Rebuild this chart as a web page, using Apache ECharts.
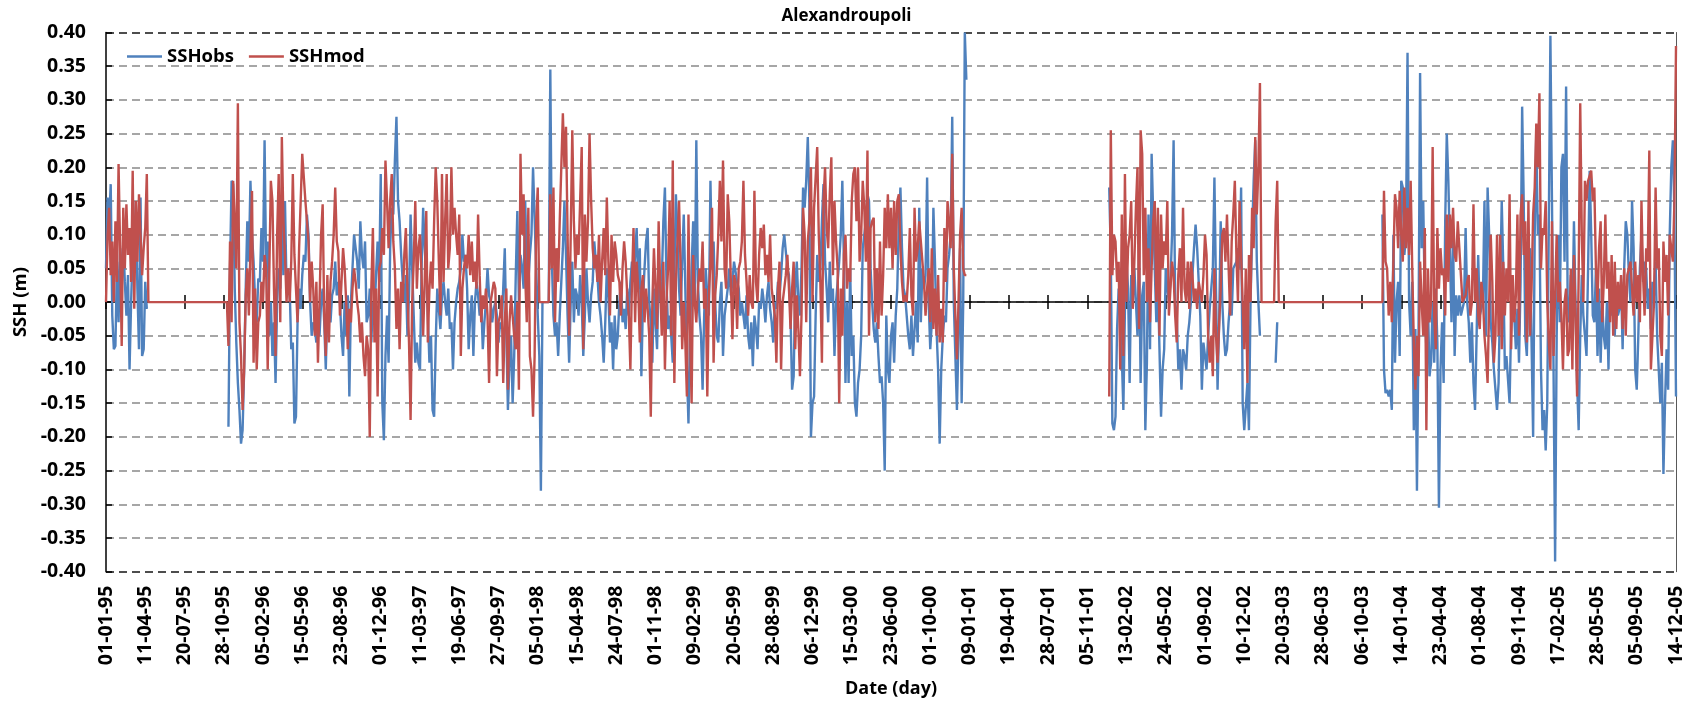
<!DOCTYPE html>
<html>
<head>
<meta charset="utf-8">
<title>Alexandroupoli</title>
<script src="https://cdn.jsdelivr.net/npm/echarts@6/dist/echarts.min.js"></script>
<style>
  html, body { margin: 0; padding: 0; background: #ffffff; }
  #chart { width: 1693px; height: 709px; }
</style>
</head>
<body>
<div id="chart"></div>
<script>
// Sea surface height at Alexandroupoli, observed vs modelled (m).
// Values are taken every 4 days from 1995-01-01 to 2005-12-14.
const seriesNames = ['SSHobs', 'SSHmod'];
const firstDay = '1995-01-01';
const stepDays = 4;
const slotCount = 1001;

// 1995-01-01 onwards
const obs1995 = [0.05,0.155,0.12,0.175,-0.02,-0.07,-0.065,0.06,-0.03,0.08,0.02,0.09,0.03,-0.02,0.04,-0.10,0.0,0.08,0.05,0.15,0.02,-0.07,0.155,-0.08,-0.07,0.03,-0.01];
const mod1995 = [0.0,0.10,0.14,0.04,0.09,0.0,0.12,0.03,0.205,0.08,-0.065,0.14,0.05,0.145,0.07,0.11,0.03,0.195,-0.01,0.15,0.06,0.16,0.10,0.04,0.08,0.11,0.19];

// 1995-11-09 onwards
const obsMain = [
  -0.185,0.05,0.18,0.175,0.02,-0.06,-0.12,-0.16,-0.21,-0.19,
  -0.10,0.02,0.12,0.06,0.18,0.1,0.06,0.0,-0.03,0.035,
  0.03,0.11,0.06,0.24,0.05,0.09,-0.05,0.0,-0.08,-0.03,
  -0.12,0.0,0.05,0.02,0.12,0.04,0.15,0.02,0.05,0.02,
  -0.07,-0.06,-0.18,-0.17,-0.03,0.02,-0.01,0.04,0.07,0.06,
  0.13,0.1,0.0,-0.05,-0.03,-0.04,-0.06,-0.02,-0.05,0.0,
  0.02,-0.03,-0.10,0.0,-0.02,-0.03,0.01,0.02,0.06,0.01,
  0.03,0.0,-0.05,-0.08,0.0,-0.05,0.01,-0.14,0.0,0.05,
  0.10,0.1,0.06,0.02,0.12,0.07,0.05,0.09,-0.03,-0.02,
  0.02,-0.06,0.0,-0.02,0.04,0.09,0.03,0.19,-0.15,-0.205,
  -0.08,-0.02,-0.09,0.08,0.14,0.13,0.21,0.275,0.15,0.12,
  0.07,0.03,0.0,0.04,-0.05,0.01,0.13,0.05,-0.02,-0.09,
  -0.06,-0.09,-0.10,0.05,0.14,0.08,0.04,-0.02,-0.09,-0.05,
  -0.16,-0.17,-0.06,0.02,-0.01,-0.04,0.01,0.03,0.0,-0.02,
  0.02,-0.04,-0.03,-0.10,-0.03,0.0,0.02,0.03,0.05,0.10,
  0.06,0.07,0.02,-0.07,-0.02,0.01,-0.08,0.0,0.03,0.01,
  -0.02,0.0,-0.07,-0.03,0.0,0.05,0.01,0.0,-0.03,-0.01,
  0.0,-0.02,-0.06,-0.03,-0.04,0.02,0.08,-0.05,-0.16,-0.09,
  -0.05,-0.15,-0.08,0.04,0.135,0.0,0.07,0.05,0.02,0.15,
  0.06,0.03,0.07,0.1,0.2,0.2,0.05,-0.02,-0.08,-0.28,
  0.0,0.0,0.0,0.0,0.0,0.345,0.06,-0.02,-0.05,-0.03,
  -0.08,-0.02,0.03,0.08,0.15,0.07,-0.02,-0.09,0.0,0.06,
  -0.03,0.02,0.01,-0.02,0.04,0.0,-0.08,-0.02,0.05,0.0,
  -0.03,0.01,0.03,0.09,0.06,0.04,0.0,-0.02,-0.05,-0.09,
  -0.03,0.05,0.01,-0.06,-0.03,-0.10,-0.02,-0.07,-0.05,0.0,
  0.03,-0.03,-0.01,-0.04,0.02,-0.02,0.03,0.06,0.03,0.07,
  0.11,0.02,0.08,-0.11,0.0,0.05,0.09,0.11,0.0,-0.03,
  -0.09,0.02,-0.03,-0.07,0.05,0.0,0.03,0.12,0.17,0.03,
  -0.04,-0.02,-0.05,-0.09,0.04,0.16,0.1,0.02,-0.02,0.06,
  0.13,0.02,-0.1,-0.18,-0.05,0.05,0.12,0.0,0.24,0.03,
  -0.02,-0.05,-0.13,-0.02,0.05,0.01,-0.02,0.18,0.05,0.09,
  0.0,-0.05,-0.06,0.0,0.03,-0.08,-0.02,0.0,0.02,0.05,
  0.01,0.03,0.06,0.06,0.03,0.02,-0.02,0.0,-0.02,-0.04,
  0.01,-0.05,-0.07,-0.03,-0.095,-0.02,-0.04,-0.07,0.0,-0.01,
  0.02,0.0,-0.03,0.01,0.03,-0.01,-0.03,-0.06,0.0,-0.01,
  0.03,0.01,0.04,0.08,0.1,0.1,0.05,0.04,-0.02,-0.13,
  -0.11,0.02,0.06,0.0,-0.02,0.05,0.17,0.14,0.18,0.245,
  0.15,-0.2,-0.15,-0.14,-0.02,0.07,0.03,0.05,0.12,0.175,
  0.06,0.02,-0.03,0.06,0.0,0.02,-0.08,0.0,0.03,0.06,
  0.1,0.18,0.06,-0.12,0.0,-0.12,0.05,-0.08,-0.05,-0.15,
  -0.17,-0.12,-0.1,-0.05,0.08,0.1,0.12,0.16,0.15,0.05,
  0.0,-0.04,-0.06,-0.03,-0.08,-0.12,-0.11,-0.15,-0.25,-0.02,
  -0.10,-0.12,-0.05,-0.03,-0.09,-0.02,0.02,0.12,0.17,0.08,
  0.02,0.01,-0.02,-0.05,-0.07,-0.02,-0.08,-0.04,0.0,-0.06,
  0.14,-0.03,0.05,0.02,0.04,0.185,0.0,-0.07,-0.03,0.14,
  0.06,-0.04,-0.1,-0.21,-0.1,-0.05,-0.02,-0.03,0.05,0.07,
  0.1,0.275,0.0,-0.08,-0.16,-0.05,0.08,-0.15,0.0,0.40,
  0.33
];
const modMain = [
  -0.065,0.09,-0.03,0.18,0.12,0.05,0.295,-0.03,-0.08,-0.16,
  -0.10,0.01,0.05,-0.02,0.08,0.165,-0.09,0.02,-0.10,-0.03,
  -0.02,0.03,0.0,0.07,0.05,-0.10,0.04,0.18,0.15,0.02,
  -0.08,0.1,0.19,-0.03,0.245,0.12,0.07,0.0,0.05,0.0,
  0.06,0.19,0.07,0.02,-0.03,0.08,0.15,0.22,0.22,0.15,
  0.12,0.09,0.0,0.06,0.02,-0.05,0.03,-0.09,0.0,0.10,
  0.145,-0.02,-0.08,0.04,-0.06,0.03,0.06,0.1,0.17,0.09,
  0.075,-0.02,0.03,0.08,0.05,0.0,-0.07,-0.01,-0.03,0.02,
  0.05,0.03,0.0,-0.02,-0.06,-0.03,-0.08,-0.11,-0.05,-0.07,
  -0.2,0.02,0.11,-0.06,0.02,-0.14,0.05,0.06,0.11,0.07,
  0.21,0.15,0.08,0.15,0.19,0.09,0.05,-0.04,0.02,-0.07,
  0.03,0.0,0.07,0.11,0.02,-0.06,-0.175,0.0,0.06,0.15,
  0.02,0.08,0.10,0.04,-0.05,0.03,0.135,-0.06,0.02,0.06,
  0.02,0.12,0.2,0.15,0.06,-0.02,0.19,0.03,0.12,0.19,
  0.05,0.08,0.2,0.1,0.14,0.1,0.07,0.13,-0.08,0.02,
  0.05,0.07,0.05,0.1,0.04,0.09,0.03,0.06,0.02,0.13,
  0.04,-0.03,0.01,-0.01,0.02,-0.02,-0.12,0.0,0.0,0.03,
  0.02,-0.11,-0.03,-0.02,0.01,-0.12,-0.03,0.02,-0.13,-0.03,
  0.01,-0.02,-0.05,-0.07,0.0,-0.13,0.22,0.1,0.16,0.04,
  -0.03,0.14,-0.08,-0.10,-0.17,-0.08,0.12,0.17,0.0,0.0,
  0.0,0.0,0.0,0.0,0.0,0.16,0.05,0.17,-0.03,0.08,
  0.03,0.12,0.2,0.28,0.2,0.26,0.10,-0.05,0.1,0.255,
  0.12,0.05,0.1,0.07,0.15,0.23,-0.07,0.13,0.06,0.12,
  0.25,0.15,0.08,0.05,0.07,0.03,0.1,0.0,0.06,0.11,
  0.04,0.155,0.06,-0.02,0.1,0.03,0.09,0.07,0.04,0.03,
  -0.02,0.05,0.09,0.06,0.01,-0.02,-0.10,0.03,0.11,-0.03,
  0.06,0.02,-0.06,0.02,0.04,-0.03,0.02,-0.01,-0.05,-0.17,
  0.0,0.08,0.02,-0.04,0.12,0.02,-0.05,0.06,-0.10,0.0,
  0.05,0.15,-0.05,0.21,-0.12,0.03,0.09,0.15,0.05,-0.07,
  0.0,-0.06,-0.14,0.13,-0.04,-0.15,0.07,0.0,-0.03,0.02,
  0.05,0.03,0.09,-0.01,0.02,-0.14,0.01,0.06,0.14,-0.09,
  0.01,0.04,0.1,0.18,0.09,0.21,0.05,0.02,0.16,0.12,
  0.03,-0.055,0.04,0.03,-0.04,0.05,0.06,0.09,0.18,0.07,
  0.03,-0.02,0.04,0.0,-0.01,0.165,0.03,0.0,0.07,0.11,
  0.08,0.115,0.04,0.07,0.03,0.1,0.02,0.0,-0.02,-0.09,
  0.02,0.06,-0.1,0.0,0.02,0.04,0.07,0.02,-0.04,0.02,
  0.06,-0.07,0.01,-0.04,-0.11,-0.02,0.14,0.1,-0.03,0.09,
  0.12,0.2,0.0,0.14,0.14,0.23,0.1,0.03,-0.09,0.15,
  0.2,0.11,0.08,0.16,0.215,0.04,0.15,0.09,0.05,-0.15,
  0.02,-0.05,0.07,0.1,0.02,0.05,0.03,0.15,0.19,0.2,
  0.12,0.2,0.06,0.1,0.18,0.14,0.06,0.225,-0.05,0.11,
  0.12,0.125,-0.03,0.05,-0.04,0.09,-0.02,0.04,0.14,0.08,
  0.16,0.08,0.14,0.05,0.15,0.07,0.15,0.16,0.08,0.03,
  0.0,0.01,0.0,0.04,0.11,0.01,-0.02,0.14,0.06,0.08,
  0.12,0.09,0.06,0.03,-0.02,0.02,0.05,-0.03,0.08,-0.04,
  0.02,-0.05,0.04,-0.06,-0.01,-0.06,0.11,0.03,0.15,0.12,
  0.08,0.22,0.05,-0.02,-0.085,0.0,0.1,0.14,0.05,0.04,
  0.04
];

// 2001-12-31 onwards
const obs2002 = [
  0.17,0.07,-0.18,-0.19,-0.17,-0.04,0.02,-0.02,-0.08,-0.16,
  -0.01,0.06,0.02,-0.12,0.04,0.0,0.05,0.05,-0.05,0.08,
  -0.12,0.01,0.03,-0.19,-0.09,0.13,-0.07,0.22,0.13,0.05,
  -0.03,0.03,-0.07,-0.17,-0.1,-0.07,0.05,0.02,0.0,0.03,
  0.1,0.24,0.0,-0.02,-0.1,-0.07,-0.13,-0.07,-0.08,-0.1,
  -0.05,-0.03,0.0,0.04,0.08,0.115,0.08,0.03,-0.02,-0.13,
  -0.06,-0.08,-0.1,-0.05,-0.01,0.02,0.05,0.185,0.02,-0.13,
  -0.03,0.12,0.0,-0.05,-0.08,-0.07,-0.03,0.0,-0.02,0.05,
  0.05,0.06,0.08,0.05,0.17,-0.15,-0.19,-0.19,-0.12,-0.19,
  0.0,0.1,0.18,0.24,0.06,0.0,-0.05
];
const mod2002 = [
  -0.14,0.255,0.04,0.1,0.09,0.03,0.06,-0.1,0.13,-0.08,
  0.19,0.0,0.08,0.1,0.15,-0.01,0.06,0.14,0.2,-0.04,
  0.255,0.22,0.04,0.14,0.0,0.08,-0.03,0.05,0.12,0.15,
  0.0,0.14,-0.05,0.13,0.05,0.09,0.07,0.15,-0.02,0.02,
  0.06,0.04,-0.02,-0.06,0.04,0.08,0.0,0.14,0.02,0.0,
  0.06,-0.01,0.06,0.04,0.0,0.02,-0.01,0.03,0.03,0.0,
  0.04,0.1,0.07,-0.05,-0.09,-0.05,-0.11,0.05,-0.05,-0.09,
  -0.09,0.02,0.1,0.11,0.06,0.13,0.13,-0.02,0.09,0.13,
  0.18,0.07,0.0,0.15,0.07,0.0,-0.07,0.05,-0.12,0.07,
  0.0,0.14,0.08,0.245,0.13,0.2,0.325
];

// 2003-02-28 onwards
const obs2003 = [-0.09, -0.03];
const mod2003 = [0.12, 0.18];

// 2003-11-27 onwards
const obs2004 = [
  0.13,-0.1,-0.135,-0.13,-0.14,-0.13,-0.16,0.1,-0.09,0.0,
  0.03,-0.08,0.18,0.17,0.07,0.1,0.37,0.0,-0.05,0.03,
  -0.19,-0.04,-0.28,-0.05,0.34,0.08,0.15,0.0,-0.07,0.0,
  -0.11,-0.09,0.0,-0.09,0.02,-0.06,-0.305,-0.1,-0.03,-0.12,
  0.12,0.25,0.18,0.18,-0.03,0.1,-0.08,0.01,-0.02,0.01,
  -0.02,-0.01,0.0,0.11,0.0,-0.03,-0.09,-0.03,-0.12,-0.16,
  -0.05,0.07,-0.02,-0.02,0.0,0.15,-0.05,0.17,0.1,-0.03,
  -0.06,-0.1,-0.1,-0.16,-0.12,0.02,0.15,0.05,-0.1,-0.08,
  -0.08,-0.15,-0.03,0.0,-0.02,-0.07,-0.01,-0.09,0.03,0.29,
  0.15,-0.05,-0.08,0.03,0.08,-0.06,-0.2,0.1,0.25,0.1,
  0.13,-0.1,-0.19,-0.16,-0.22,-0.15,0.12,0.395,0.15,-0.1,
  -0.385,-0.05,0.1,-0.03,0.2,0.22,0.06,0.32,0.0,-0.03,
  0.04,-0.03,0.12,0.0,-0.12,-0.19,-0.05,0.04,-0.02,-0.05,
  -0.08,0.05,0.195,0.1,-0.02,-0.03,0.05,-0.08,0.02,-0.09,
  0.0,-0.05,-0.07,0.0,-0.1,0.03,-0.02,0.0,-0.05,0.02,
  -0.02,-0.01,0.03,-0.07,0.05,0.12,0.1,0.04,0.0,0.15,
  0.08,-0.1,-0.13,-0.05,0.05,0.1,0.03,0.06,0.05,-0.01,
  0.02,-0.04,0.03,0.01,0.06,-0.05,-0.1,-0.15,-0.09,-0.255,
  -0.15,-0.07,-0.13,0.1,0.2,0.24,0.13,-0.14
];
const mod2004 = [
  0.0,0.165,0.06,0.05,-0.02,0.03,-0.03,0.06,0.16,0.14,
  0.08,0.165,0.1,0.06,0.17,0.08,0.14,0.07,0.18,0.05,
  -0.06,-0.13,-0.05,-0.11,0.06,0.0,-0.05,0.11,-0.19,0.05,
  -0.03,0.0,0.23,-0.02,-0.07,0.11,0.02,0.08,0.04,0.05,
  -0.02,0.13,0.03,0.13,0.08,0.14,0.07,0.06,0.12,0.08,
  0.04,0.0,0.0,0.01,0.03,0.04,-0.02,0.0,0.145,0.0,
  0.05,-0.02,-0.04,0.03,0.01,-0.05,-0.08,-0.12,0.0,0.1,
  0.03,-0.09,-0.05,0.1,-0.05,0.1,-0.07,0.06,-0.02,0.05,
  0.0,0.16,-0.07,0.04,-0.03,0.01,0.13,-0.05,0.13,0.16,
  0.07,0.12,-0.06,0.15,-0.05,0.02,0.13,0.17,0.265,0.2,
  0.31,0.05,0.11,0.1,0.15,0.0,-0.06,-0.1,0.12,-0.08,
  -0.08,0.1,0.0,0.03,-0.02,-0.1,0.0,0.02,-0.08,-0.07,
  0.05,-0.1,0.07,-0.02,-0.14,0.04,0.295,0.1,0.0,0.18,
  0.15,0.18,0.18,0.195,0.15,0.17,0.05,0.0,0.08,0.12,
  -0.03,0.03,0.13,0.02,0.06,-0.03,0.07,-0.05,0.06,-0.04,
  0.03,-0.01,0.04,-0.04,0.05,-0.05,0.04,0.05,0.06,0.02,
  -0.02,0.06,0.0,0.04,-0.03,0.15,0.04,-0.02,0.08,0.06,
  0.225,-0.1,-0.1,0.0,0.17,0.05,0.08,-0.05,-0.08,0.09,
  0.03,0.07,-0.02,0.1,0.1,0.06,0.15,0.38
];

// Periods in which the model output sits at zero
const modelZeroSpans = [['1995-04-19', '1995-11-05'], ['2003-01-23', '2003-11-23']];

const segments = [
  { from: '1995-01-01', obs: obs1995, mod: mod1995 },
  { from: '1995-11-09', obs: obsMain, mod: modMain },
  { from: '2001-12-31', obs: obs2002, mod: mod2002 },
  { from: '2003-02-28', obs: obs2003, mod: mod2003 },
  { from: '2003-11-27', obs: obs2004, mod: mod2004 }
];

const DAY = 86400000;
const t0 = toUTC(firstDay);
function toUTC(s) { const p = s.split('-').map(Number); return Date.UTC(p[0], p[1] - 1, p[2]); }
function slotOf(s) { return Math.round((toUTC(s) - t0) / DAY / stepDays); }
function pad(n) { return (n < 10 ? '0' : '') + n; }

const categories = [];
for (let s = 0; s < slotCount; s++) {
  const d = new Date(t0 + s * stepDays * DAY);
  categories.push(pad(d.getUTCDate()) + '-' + pad(d.getUTCMonth() + 1) + '-' + pad(d.getUTCFullYear() % 100));
}

const obsData = new Array(slotCount).fill(null);
const modData = new Array(slotCount).fill(null);
modelZeroSpans.forEach(function (span) {
  for (let s = slotOf(span[0]); s <= slotOf(span[1]); s++) modData[s] = 0;
});
segments.forEach(function (seg) {
  const s0 = slotOf(seg.from);
  seg.obs.forEach(function (v, i) { obsData[s0 + i] = v; });
  seg.mod.forEach(function (v, i) { modData[s0 + i] = v; });
});

const FONT = '"Open Sans", Lato, "DejaVu Sans", sans-serif';
const gridColors = [];
for (let i = 0; i <= 16; i++) gridColors.push(i === 0 || i === 16 ? '#4d4d4d' : '#a6a6a6');

const chart = echarts.init(document.getElementById('chart'), null, { renderer: 'canvas' });
chart.setOption({
  animation: false,
  backgroundColor: '#ffffff',
  textStyle: { fontFamily: FONT },
  title: {
    text: 'Alexandroupoli',
    left: 'center',
    top: 3,
    textStyle: { fontFamily: FONT, fontSize: 17, fontWeight: 'bold', color: '#000000' }
  },
  legend: {
    data: seriesNames,
    left: 122,
    top: 42,
    icon: 'rect',
    itemWidth: 35,
    itemHeight: 2.5,
    itemGap: 15,
    textStyle: { fontFamily: FONT, fontSize: 18.5, fontWeight: 'bold', color: '#000000' }
  },
  grid: { left: 106, right: 17, top: 32.5, bottom: 137.3, containLabel: false },
  xAxis: [
    {
      type: 'category',
      data: categories,
      boundaryGap: false,
      position: 'bottom',
      name: 'Date (day)',
      nameLocation: 'middle',
      nameGap: 108,
      nameTextStyle: { fontFamily: FONT, fontSize: 18, fontWeight: 'bold', color: '#000000' },
      axisLine: { show: false, onZero: false },
      axisTick: { show: false },
      axisLabel: {
        interval: 24,
        rotate: 90,
        margin: 14,
        fontFamily: FONT,
        fontSize: 19.5,
        fontWeight: 'bold',
        color: '#000000'
      },
      splitLine: { show: false }
    },
    {
      type: 'category',
      data: categories,
      boundaryGap: false,
      position: 'bottom',
      axisLine: { show: true, onZero: true, onZeroAxisIndex: 0, lineStyle: { color: '#000000', width: 1.5 } },
      axisTick: { show: true, interval: 24, inside: true, length: 7, lineStyle: { color: '#000000', width: 1.5 } },
      axisLabel: { show: false },
      splitLine: { show: false }
    },
    {
      type: 'category',
      data: categories,
      boundaryGap: false,
      position: 'bottom',
      axisLine: { show: false, onZero: true, onZeroAxisIndex: 0 },
      axisTick: { show: true, interval: 24, inside: false, length: 7, lineStyle: { color: '#000000', width: 1.5 } },
      axisLabel: { show: false },
      splitLine: { show: false }
    }
  ],
  yAxis: [
    {
      type: 'value',
      min: -0.4,
      max: 0.4,
      interval: 0.05,
      position: 'left',
      name: 'SSH (m)',
      nameLocation: 'middle',
      nameGap: 76,
      nameTextStyle: { fontFamily: FONT, fontSize: 18.5, fontWeight: 'bold', color: '#000000' },
      axisLine: { show: true, lineStyle: { color: '#000000', width: 1.5 } },
      axisTick: { show: true, inside: true, length: 6, lineStyle: { color: '#000000', width: 1.5 } },
      axisLabel: {
        margin: 20,
        fontFamily: FONT,
        fontSize: 19.5,
        fontWeight: 'bold',
        color: '#000000',
        formatter: function (v) { return v.toFixed(2); }
      },
      splitLine: { show: true, lineStyle: { color: gridColors, width: 2, type: [8, 5] } }
    },
    {
      type: 'value',
      min: -0.4,
      max: 0.4,
      interval: 0.05,
      position: 'right',
      axisLine: { show: true, lineStyle: { color: '#595959', width: 1 } },
      axisTick: { show: false },
      axisLabel: { show: false },
      splitLine: { show: false }
    }
  ],
  series: [
    {
      name: seriesNames[0],
      type: 'line',
      xAxisIndex: 0,
      yAxisIndex: 0,
      data: obsData,
      showSymbol: false,
      connectNulls: false,
      color: '#4f81bd',
      lineStyle: { color: '#4f81bd', width: 2.4 },
      z: 3
    },
    {
      name: seriesNames[1],
      type: 'line',
      xAxisIndex: 0,
      yAxisIndex: 0,
      data: modData,
      showSymbol: false,
      connectNulls: false,
      color: '#c0504d',
      lineStyle: { color: '#c0504d', width: 2.4 },
      z: 4
    }
  ]
});
</script>
</body>
</html>
